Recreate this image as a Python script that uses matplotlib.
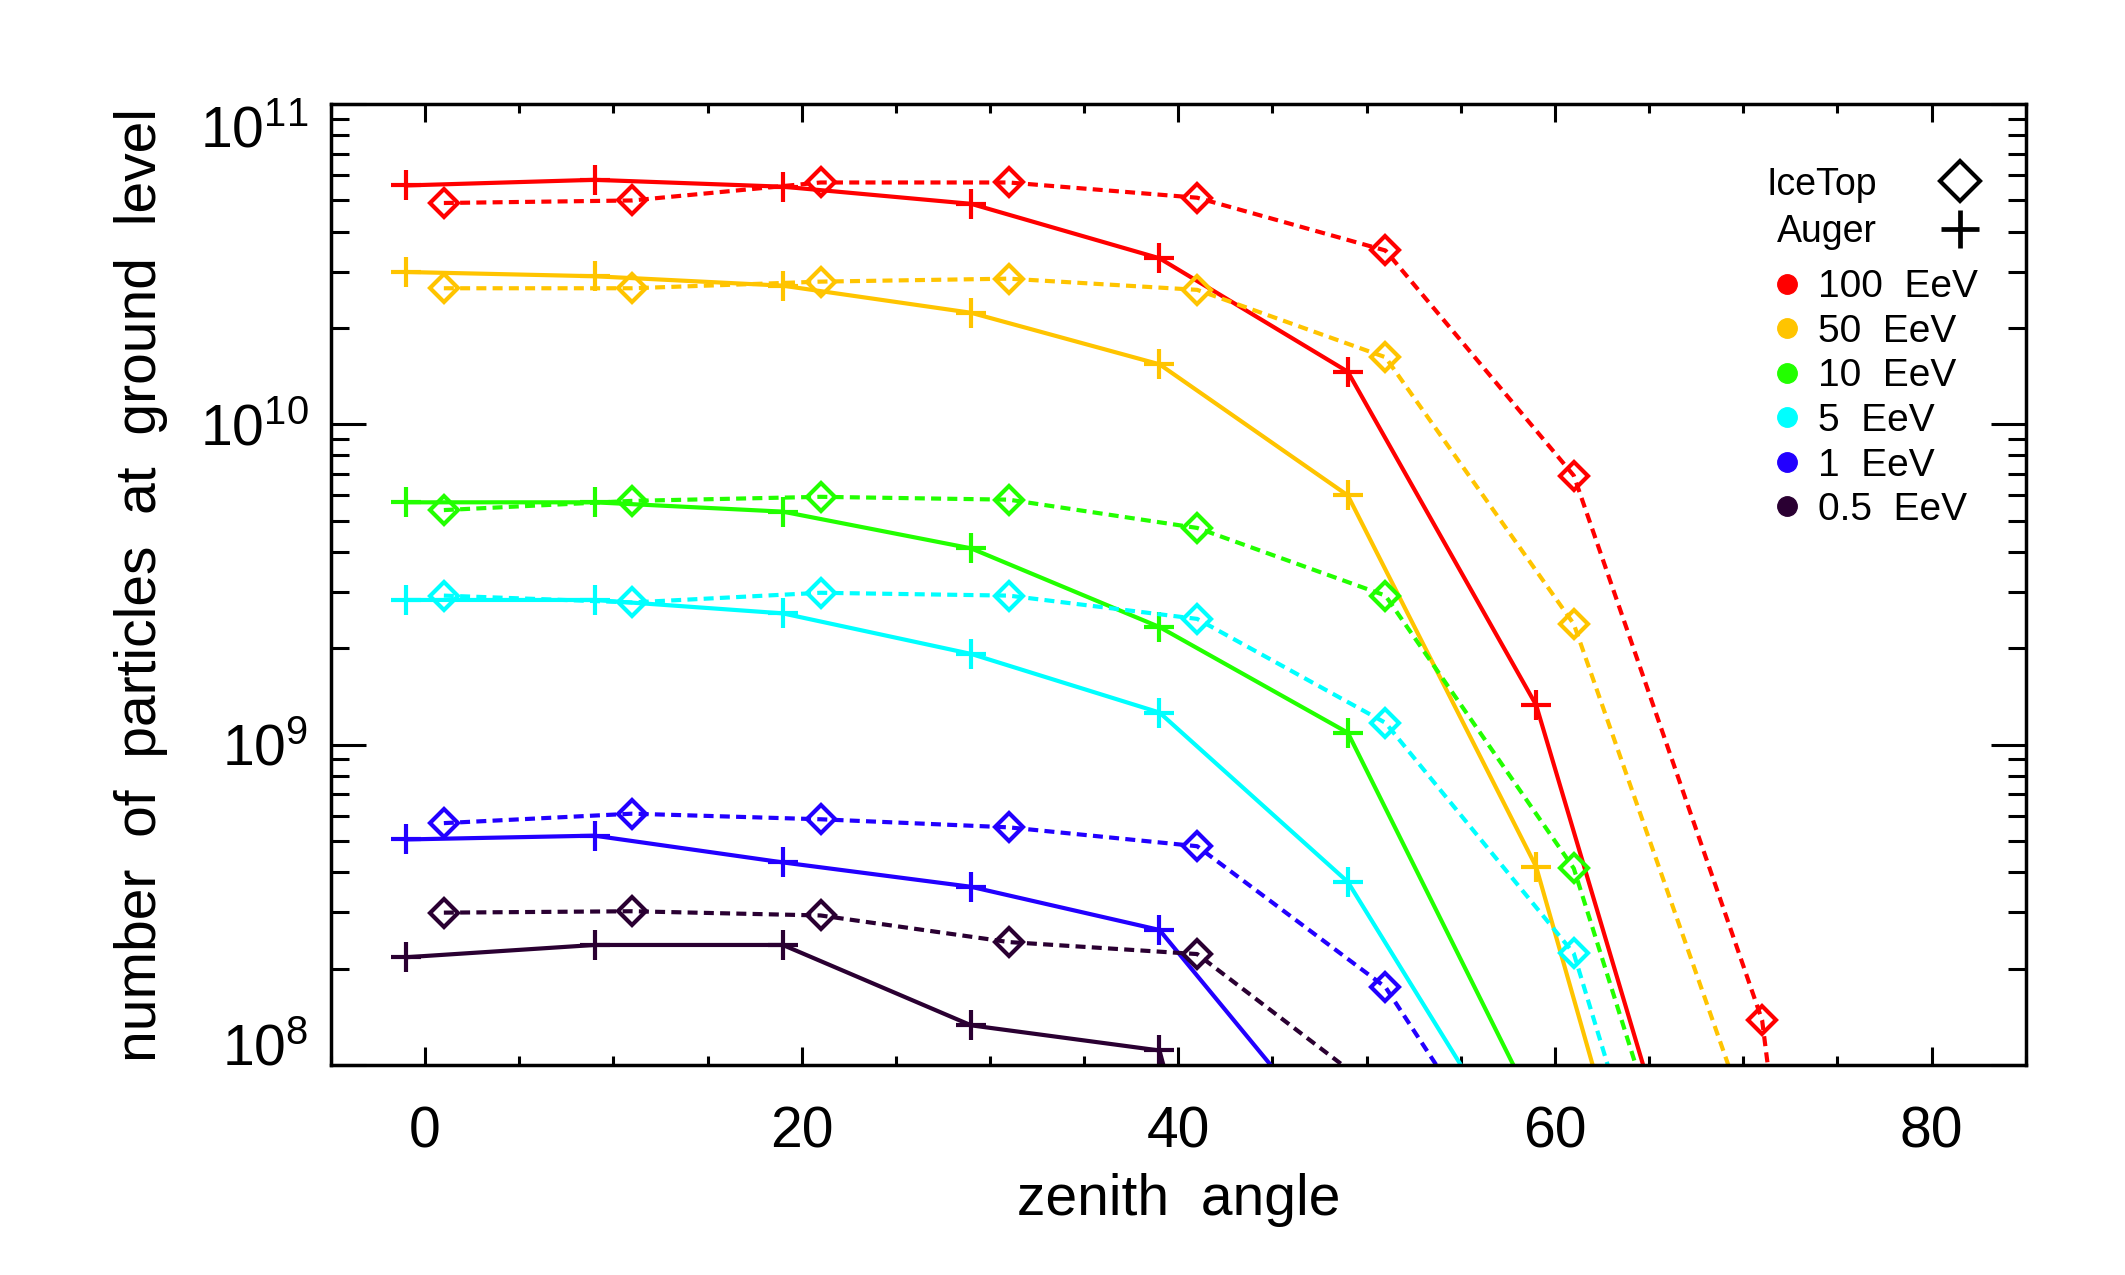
"""
particles at ground level vs zenith angle, IceTop and Auger
"""

import matplotlib

matplotlib.use("Agg")
import matplotlib.pyplot as plt
from matplotlib.lines import Line2D
from matplotlib.ticker import MultipleLocator

plt.rcParams["font.family"] = ["Liberation Sans", "DejaVu Sans"]
plt.rcParams["mathtext.fontset"] = "custom"
plt.rcParams["mathtext.rm"] = "Liberation Sans"

auger_angle = [-1, 9, 19, 29, 39, 49, 59, 69]
icetop_angle = [1, 11, 21, 31, 41, 51, 61, 71, 81]

energies = ["100 EeV", "50 EeV", "10 EeV", "5 EeV", "1 EeV", "0.5 EeV"]
colors = ["#FF0000", "#FFC400", "#22FF00", "#00FFFF", "#2200FF", "#2A0032"]

auger = {
    "100 EeV": [5.57e10, 5.8e10, 5.52e10, 4.88e10, 3.30e10, 1.46e10, 1.33e9, 1.4e7],
    "50 EeV": [2.99e10, 2.90e10, 2.71e10, 2.23e10, 1.54e10, 6.0e9, 4.16e8, 3.6e6],
    "10 EeV": [5.71e9, 5.71e9, 5.34e9, 4.1e9, 2.33e9, 1.09e9, 7.2e7],
    "5 EeV": [2.83e9, 2.83e9, 2.57e9, 1.92e9, 1.26e9, 3.73e8, 4.16e7],
    "1 EeV": [5.06e8, 5.2e8, 4.29e8, 3.6e8, 2.64e8, 5.1e7],
    "0.5 EeV": [2.17e8, 2.37e8, 2.37e8, 1.33e8, 1.11e8, 7e5],
}

icetop = {
    "100 EeV": [4.91e10, 5.0e10, 5.69e10, 5.69e10, 5.1e10, 3.49e10, 6.92e9, 1.38e8, 3e3],
    "50 EeV": [2.66e10, 2.66e10, 2.79e10, 2.85e10, 2.63e10, 1.62e10, 2.38e9, 5.0e7],
    "10 EeV": [5.4e9, 5.77e9, 5.94e9, 5.82e9, 4.75e9, 2.92e9, 4.11e8, 5.6e6],
    "5 EeV": [2.92e9, 2.78e9, 2.98e9, 2.92e9, 2.47e9, 1.17e9, 2.23e8, 2.6e6],
    "1 EeV": [5.69e8, 6.09e8, 5.85e8, 5.52e8, 4.82e8, 1.75e8, 2.2e7],
    "0.5 EeV": [2.99e8, 3.02e8, 2.93e8, 2.42e8, 2.22e8, 7.9e7],
}

fig = plt.figure(figsize=(21.25, 12.75), dpi=100)
ax = fig.add_axes([0.1557, 0.1647, 0.7976, 0.7537])

lw = 3
for name, col in zip(energies, colors):
    ya = auger[name]
    ax.plot(auger_angle[: len(ya)], ya, color=col, lw=lw, marker="+",
            ms=21, mew=3, solid_joinstyle="miter")
    yi = icetop[name]
    ax.plot(icetop_angle[: len(yi)], yi, color=col, lw=lw,
            linestyle=(0, (2.4, 1.5)), marker="D", ms=14.5, mew=3,
            mfc="none")

ax.set_yscale("log")
ax.set_xlim(-5, 85)
ax.set_ylim(1e8, 1e11)
ax.xaxis.set_major_locator(MultipleLocator(20))
ax.xaxis.set_minor_locator(MultipleLocator(5))

for s in ax.spines.values():
    s.set_linewidth(2.5)

ax.tick_params(which="both", direction="in", top=True, right=True,
               labelsize=41)
ax.tick_params(axis="x", which="major", length=13, width=2.2, pad=29)
ax.tick_params(axis="x", which="minor", length=6.5, width=2.2)
ax.tick_params(axis="y", which="major", length=25, width=2.2, pad=16)
ax.tick_params(axis="y", which="minor", length=13, width=2.2)

ax.set_xlabel("zenith  angle", fontsize=41, labelpad=10)
ax.set_ylabel("number  of  particles  at  ground  level", fontsize=41,
              labelpad=23)

det_handles = [
    Line2D([], [], color="black", marker="D", ms=20, mew=3, mfc="none",
           linestyle="none"),
    Line2D([], [], color="black", marker="+", ms=28, mew=3.4,
           linestyle="none"),
]
leg1 = ax.legend(det_handles, ["IceTop", "Auger"], loc="upper left",
                 bbox_to_anchor=(0.847, 0.935), frameon=False, fontsize=27,
                 markerfirst=False, handlelength=1.5, handletextpad=1.45,
                 labelspacing=0.3, borderpad=0, borderaxespad=0)
ax.add_artist(leg1)

en_handles = [
    Line2D([], [], color=c, marker="o", ms=14, linestyle="none")
    for c in colors
]
ax.legend(en_handles, [e.replace(" ", "  ") for e in energies],
          loc="upper left", bbox_to_anchor=(0.85, 0.828), frameon=False,
          fontsize=28, handlelength=0.8, handletextpad=0.4,
          labelspacing=0.22, borderpad=0, borderaxespad=0)

# IDL keeps the end labels inside the axis range
fig.canvas.draw()
for tick in ax.yaxis.get_major_ticks():
    if abs(tick.get_loc() - 1e11) < 1:
        tick.label1.set_verticalalignment("top")
    elif abs(tick.get_loc() - 1e8) < 1:
        tick.label1.set_verticalalignment("baseline")

plt.savefig("out.png")
